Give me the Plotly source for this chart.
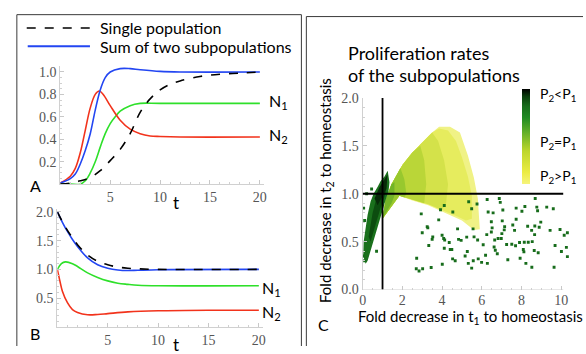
import plotly.graph_objects as go

W, H = 586, 354

# ---------------- Data: panel A (growth curves) ----------------
tA_sum = [0, 1, 1.5, 2, 2.5, 3, 3.5, 4, 4.5, 5, 6, 7, 8, 10, 12, 20]
A_sum = [0.01, 0.05, 0.09, 0.18, 0.30, 0.45, 0.66, 0.84, 0.95, 1.0, 1.03, 1.03, 1.02, 1.005, 1.0, 1.0]

tA_n2 = [0, 1, 1.5, 2, 2.5, 3, 3.5, 3.9, 4.3, 5, 6, 7, 8, 9, 10, 12, 20]
A_n2 = [0.01, 0.07, 0.14, 0.28, 0.48, 0.68, 0.80, 0.83, 0.80, 0.70, 0.57, 0.49, 0.45, 0.43, 0.425, 0.42, 0.42]

tA_n1 = [0, 1, 2, 2.5, 3, 3.5, 4, 4.5, 5, 5.5, 6, 7, 8, 10, 20]
A_n1 = [0.0, 0.0, 0.0, 0.03, 0.10, 0.20, 0.33, 0.45, 0.54, 0.60, 0.65, 0.70, 0.72, 0.72, 0.72]

tA_single = [0, 1, 2, 3, 4, 5, 6, 7, 8, 9, 10, 11, 12, 14, 16, 18, 20]
A_single = [0.0, 0.01, 0.03, 0.06, 0.12, 0.21, 0.31, 0.45, 0.64, 0.76, 0.84, 0.89, 0.92, 0.96, 0.98, 0.99, 1.0]

# ---------------- Data: panel B (ratios) ----------------
tB_sum = [0, 0.5, 1, 1.5, 2, 3, 4, 5, 6, 7, 8, 10, 20]
B_sum = [2.0, 1.82, 1.66, 1.52, 1.40, 1.20, 1.08, 1.02, 0.99, 0.98, 0.985, 0.995, 1.0]

tB_single = [0, 0.5, 1, 1.5, 2, 3, 4, 5, 6, 7, 8, 10, 20]
B_single = [2.0, 1.83, 1.68, 1.55, 1.43, 1.25, 1.14, 1.08, 1.04, 1.02, 1.01, 1.0, 1.0]

tB_n1 = [0, 0.4, 0.8, 1.5, 2, 3, 4, 5, 6, 7, 8, 10, 20]
B_n1 = [1.0, 1.10, 1.13, 1.10, 1.05, 0.94, 0.86, 0.80, 0.76, 0.74, 0.725, 0.715, 0.715]

tB_n2 = [0, 0.25, 0.5, 1, 1.5, 2, 3, 4, 5, 7, 10, 15, 20]
B_n2 = [1.0, 0.80, 0.62, 0.42, 0.30, 0.25, 0.21, 0.215, 0.23, 0.26, 0.28, 0.29, 0.29]

tick_A_x = [5, 10, 15, 20]
tick_A_y = [0.2, 0.4, 0.6, 0.8, 1.0]
tick_B_y = [0.5, 1.0, 1.5, 2.0]
tick_C_x = [0, 2, 4, 6, 8, 10]
tick_C_y = [0.0, 0.5, 1.0, 1.5, 2.0]

# ---------------- Data: panel C ----------------
# sparse scattered points (fold decrease t1, fold decrease t2)
C_x = [2.95, 3.25, 3.28, 3.0, 3.83, 4.0, 4.08, 4.13, 3.5, 3.53, 3.33, 2.72, 2.7, 2.84, 3.02, 3.45,
       4.01, 4.11, 4.36, 4.41, 4.49, 4.53, 4.66, 4.83, 4.96, 4.78, 5.24, 5.27, 5.16, 5.32, 5.49, 5.57,
       5.56, 5.61, 5.82, 5.79, 5.99, 6.07, 6.19, 6.28, 6.25, 6.32, 6.27, 6.57, 6.48, 6.48, 6.52, 6.62,
       6.65, 6.68, 6.78, 6.82, 6.88, 6.93, 7.06, 7.03, 7.01, 6.98, 7.15, 7.13, 7.25, 7.31, 7.51, 7.65,
       7.70, 7.56, 7.73, 7.73, 7.93, 7.90, 8.02, 8.09, 8.12, 8.14, 8.22, 8.17, 8.34, 8.31, 8.51, 8.54,
       8.52, 8.64, 8.67, 8.66, 8.77, 8.81, 8.69, 8.84, 8.89, 8.97, 9.27, 9.44, 9.60, 9.69, 9.64, 9.94,
       10.01, 10.15, 10.26, 10.31, 10.31,
       4.11, 4.54, 5.49, 5.76, 3.92, 5.34,
       0.10, 0.02, 0.10, 0.45, 0.20, 0.05, 0.70]
C_y = [0.79, 0.657, 0.643, 0.593, 0.727, 0.567, 0.533, 0.517, 0.523, 0.55, 0.46, 0.327, 0.217, 0.193, 0.217, 0.23,
       0.263, 0.43, 0.49, 0.417, 0.417, 0.32, 0.30, 0.523, 0.513, 0.633, 0.547, 0.397, 0.35, 0.273, 0.223, 0.30,
       0.633, 0.55, 0.32, 0.517, 0.283, 0.467, 0.357, 0.273, 0.573, 0.81, 0.94, 0.80, 0.707, 0.60, 0.643, 0.443,
       0.517, 0.41, 0.373, 0.533, 0.95, 0.91, 0.83, 0.717, 0.583, 0.533, 0.657, 0.623, 0.47, 0.31, 0.473, 0.617,
       0.457, 0.673, 0.733, 0.85, 0.327, 0.49, 0.817, 0.417, 0.393, 0.493, 0.273, 0.867, 0.493, 0.66, 0.617, 0.50,
       0.233, 0.407, 0.663, 0.573, 0.86, 0.823, 0.95, 0.383, 0.65, 0.703, 0.86, 0.617, 0.843, 0.46, 0.233, 0.627,
       0.397, 0.567, 0.44, 0.593, 0.343,
       0.877, 0.81, 0.843, 0.893, 0.833, 0.917,
       0.72, 0.35, 0.30, 1.05, 1.0, 0.85, 0.40]

# dense cloud outlines (P2 > P1 fan, layered by colour)
fan1_x = [1.0, 1.15, 1.45, 2.0, 2.5, 3.0, 3.5, 3.85, 4.4, 4.9, 5.3, 5.6, 5.8, 5.9, 5.6, 5.0, 4.0, 3.3, 2.5, 1.85]
fan1_y = [0.74, 0.93, 1.1, 1.3, 1.43, 1.54, 1.64, 1.70, 1.70, 1.64, 1.40, 1.17, 0.95, 0.63, 0.62, 0.72, 0.81, 0.88, 0.93, 0.98]
fan2_x = [1.0, 1.15, 1.45, 2.0, 2.5, 3.0, 3.5, 3.85, 4.3, 4.7, 5.0, 5.3, 5.5, 5.5, 5.2, 4.8, 4.0, 3.3, 2.5, 1.85]
fan2_y = [0.74, 0.93, 1.1, 1.3, 1.43, 1.54, 1.64, 1.68, 1.66, 1.55, 1.38, 1.18, 0.98, 0.74, 0.72, 0.76, 0.83, 0.89, 0.94, 0.98]
fan3_x = [1.0, 1.15, 1.45, 2.0, 2.5, 3.0, 3.5, 3.8, 4.1, 4.3, 4.2, 4.0, 3.3, 2.5, 1.85]
fan3_y = [0.74, 0.93, 1.1, 1.3, 1.43, 1.54, 1.64, 1.55, 1.35, 1.1, 0.9, 0.83, 0.89, 0.94, 0.98]
fan4_x = [1.0, 1.15, 1.45, 2.0, 2.5, 2.9, 3.1, 3.2, 3.1, 2.5, 1.85]
fan4_y = [0.74, 0.93, 1.1, 1.3, 1.43, 1.5, 1.35, 1.1, 0.9, 0.94, 0.98]
fan5_x = [1.0, 1.15, 1.45, 1.9, 2.1, 2.2, 2.1, 1.85]
fan5_y = [0.74, 0.93, 1.1, 1.27, 1.15, 1.0, 0.96, 0.98]
fan6_x = [1.0, 1.15, 1.45, 1.6, 1.6, 1.45]
fan6_y = [0.74, 0.93, 1.1, 1.12, 0.98, 0.9]

# P2 < P1 wedge
wedge1_x = [0.15, 0.03, 0.05, 0.12, 0.25, 0.4, 0.55, 0.75, 0.9, 1.1, 1.26, 1.35, 1.3, 1.15, 1.0, 0.85, 0.66, 0.5, 0.35, 0.25]
wedge1_y = [0.27, 0.35, 0.5, 0.62, 0.78, 0.92, 1.0, 1.07, 1.13, 1.18, 1.24, 1.12, 1.02, 0.93, 0.82, 0.72, 0.58, 0.47, 0.37, 0.3]
wedge2_x = [0.3, 0.5, 0.75, 1.0, 1.2, 1.15, 0.9, 0.6, 0.4]
wedge2_y = [0.55, 0.8, 1.0, 1.1, 1.15, 1.0, 0.85, 0.65, 0.5]
wedge3_x = [0.6, 0.85, 1.1, 1.25, 1.2, 0.95, 0.75]
wedge3_y = [0.95, 1.07, 1.15, 1.2, 1.05, 0.95, 0.88]

cb_labels = ["P<sub>2</sub>&lt;P<sub>1</sub>", "P<sub>2</sub>=P<sub>1</sub>", "P<sub>2</sub>&gt;P<sub>1</sub>"]

# ---------------- helpers ----------------
def fx(p):
    return p / W

def fy(p):
    return 1 - p / H

BLUE = '#2346f2'
RED = '#f2331c'
GREEN = '#2ee02a'
SANS = 'Lato'
SERIF = 'Liberation Serif'

fig = go.Figure()

# Panel A
fig.add_trace(go.Scatter(x=tA_n1, y=A_n1, mode='lines', line=dict(color=GREEN, width=1.6, shape='spline'), xaxis='x', yaxis='y'))
fig.add_trace(go.Scatter(x=tA_n2, y=A_n2, mode='lines', line=dict(color=RED, width=1.6, shape='spline'), xaxis='x', yaxis='y'))
fig.add_trace(go.Scatter(x=tA_sum, y=A_sum, mode='lines', line=dict(color=BLUE, width=1.6, shape='spline'), xaxis='x', yaxis='y'))
fig.add_trace(go.Scatter(x=tA_single, y=A_single, mode='lines', line=dict(color='black', width=1.6, dash='dash', shape='spline'), xaxis='x', yaxis='y'))

# Panel B
fig.add_trace(go.Scatter(x=tB_n1, y=B_n1, mode='lines', line=dict(color=GREEN, width=1.6, shape='spline'), xaxis='x2', yaxis='y2'))
fig.add_trace(go.Scatter(x=tB_n2, y=B_n2, mode='lines', line=dict(color=RED, width=1.6, shape='spline'), xaxis='x2', yaxis='y2'))
fig.add_trace(go.Scatter(x=tB_sum, y=B_sum, mode='lines', line=dict(color=BLUE, width=1.6, shape='spline'), xaxis='x2', yaxis='y2'))
fig.add_trace(go.Scatter(x=tB_single, y=B_single, mode='lines', line=dict(color='black', width=1.6, dash='dash', shape='spline'), xaxis='x2', yaxis='y2'))

# Panel C dense clouds
for xs, ys, col in [(fan1_x, fan1_y, '#f0f286'), (fan2_x, fan2_y, '#e6ec5e'), (fan3_x, fan3_y, '#d4e24a'),
                    (fan4_x, fan4_y, '#bad638'), (fan5_x, fan5_y, '#98c82e'), (fan6_x, fan6_y, '#72b428'),
                    (wedge1_x, wedge1_y, '#1a701c'), (wedge2_x, wedge2_y, '#0c4c0f'), (wedge3_x, wedge3_y, '#072a08')]:
    fig.add_trace(go.Scatter(x=xs + [xs[0]], y=ys + [ys[0]], mode='lines', fill='toself', fillcolor=col,
                             line=dict(width=0, color=col), xaxis='x3', yaxis='y3'))

colorscale = [[0, '#f6f47c'], [0.12, '#ecec45'], [0.35, '#bcd62c'], [0.55, '#5fae28'], [0.7, '#1f8a22'],
              [0.82, '#176c1b'], [0.92, '#0a3f0d'], [1, '#000000']]
fig.add_trace(go.Scatter(
    x=C_x, y=C_y, mode='markers', xaxis='x3', yaxis='y3',
    marker=dict(size=2.9, symbol='square', color=[0.82] * len(C_x), colorscale=colorscale, cmin=0, cmax=1,
                line=dict(width=0), showscale=True,
                colorbar=dict(thickness=8, thicknessmode='pixels', len=95, lenmode='pixels',
                              x=fx(524), xanchor='left', y=fy(86), yanchor='top', xpad=0, ypad=0,
                              outlinewidth=0, showticklabels=False, ticks=''))))

tick_font = dict(family=SERIF, size=14, color='#555555')
axis_common = dict(showgrid=False, zeroline=False, showline=True, linecolor='#d0d0d0', linewidth=1,
                   ticks='inside', ticklen=4, tickcolor='#c8c8c8', tickfont=tick_font)

fig.update_layout(
    width=W, height=H, margin=dict(l=0, r=0, t=0, b=0),
    paper_bgcolor='white', plot_bgcolor='rgba(0,0,0,0)', showlegend=False,
    font=dict(family=SANS, color='black'),
    xaxis=dict(domain=[fx(57), fx(263)], range=[0, 20.4], anchor='y', tickvals=tick_A_x,
               minor=dict(dtick=1, ticks='inside', ticklen=2, tickcolor='#d0d0d0'), **axis_common),
    yaxis=dict(domain=[fy(185), fy(62)], range=[0, 1.05], anchor='x', tickvals=tick_A_y, tickformat='.1f',
               minor=dict(dtick=0.05, ticks='inside', ticklen=2, tickcolor='#d0d0d0'), **axis_common),
    xaxis2=dict(domain=[fx(54), fx(262)], range=[0, 20.4], anchor='y2', tickvals=tick_A_x,
                minor=dict(dtick=1, ticks='inside', ticklen=2, tickcolor='#d0d0d0'), **axis_common),
    yaxis2=dict(domain=[fy(334), fy(211)], range=[0, 2.05], anchor='x2', tickvals=tick_B_y, tickformat='.1f',
                minor=dict(dtick=0.1, ticks='inside', ticklen=2, tickcolor='#d0d0d0'), **axis_common),
    xaxis3=dict(domain=[fx(363), fx(572)], range=[0, 10.4], anchor='y3', tickvals=tick_C_x,
                minor=dict(dtick=0.5, ticks='inside', ticklen=2, tickcolor='#d0d0d0'),
                **{**axis_common, 'showline': False}),
    yaxis3=dict(domain=[fy(295), fy(95)], range=[0, 2.0], anchor='x3', tickvals=tick_C_y, tickformat='.1f',
                minor=dict(dtick=0.1, ticks='inside', ticklen=2, tickcolor='#d0d0d0'), **axis_common),
)

shapes = []
frame = dict(color='#3a3a3a', width=1)
# panel frames
shapes.append(dict(type='line', xref='paper', yref='paper', x0=fx(13), x1=fx(13), y0=fy(8), y1=fy(354), line=frame))
shapes.append(dict(type='line', xref='paper', yref='paper', x0=fx(13), x1=fx(301), y0=fy(8), y1=fy(8), line=frame))
shapes.append(dict(type='line', xref='paper', yref='paper', x0=fx(301), x1=fx(301), y0=fy(8), y1=fy(354), line=frame))
shapes.append(dict(type='line', xref='paper', yref='paper', x0=fx(306), x1=fx(306), y0=fy(10), y1=fy(354), line=frame))
shapes.append(dict(type='line', xref='paper', yref='paper', x0=fx(306), x1=fx(586), y0=fy(10), y1=fy(10), line=frame))
# legend samples
shapes.append(dict(type='line', xref='paper', yref='paper', x0=fx(23), x1=fx(87), y0=fy(22), y1=fy(22),
                   line=dict(color='black', width=1.6, dash='dash')))
shapes.append(dict(type='line', xref='paper', yref='paper', x0=fx(24), x1=fx(87), y0=fy(41), y1=fy(41),
                   line=dict(color=BLUE, width=1.8)))
# panel C x-axis line and reference lines
shapes.append(dict(type='line', xref='x3', yref='y3', x0=0, x1=10.1, y0=0, y1=0, line=dict(color='#d0d0d0', width=1), layer='below'))
shapes.append(dict(type='line', xref='x3', yref='y3', x0=1, x1=1, y0=0, y1=2.0, line=dict(color='black', width=1.8)))
shapes.append(dict(type='line', xref='x3', yref='y3', x0=0, x1=10.1, y0=1, y1=1, line=dict(color='black', width=1.8)))
fig.update_layout(shapes=shapes)

ann = []
def txt(x, y, s, size=16, xanchor='left', family=SANS, angle=0, color='black'):
    ann.append(dict(xref='paper', yref='paper', x=fx(x), y=fy(y), text=s, showarrow=False, xanchor=xanchor,
                    yanchor='middle', textangle=angle, font=dict(family=family, size=size, color=color)))

txt(95, 21, 'Single population', 16)
txt(95, 41, 'Sum of two subpopulations', 16)
txt(266, 99, 'N<sub>1</sub>', 16)
txt(266, 134, 'N<sub>2</sub>', 16)
txt(259, 294, 'N<sub>1</sub>', 16)
txt(259, 319, 'N<sub>2</sub>', 16)
txt(174, 204, 't', 17, 'center')
txt(174, 352, 't', 17, 'center')
txt(24, 186, 'A', 16)
txt(24, 341, 'B', 16)
txt(316, 332, 'C', 16)
txt(346, 48, 'Proliferation rates', 18)
txt(346, 71, 'of the subpopulations', 18)
txt(540, 91, cb_labels[0], 14)
txt(540, 142, cb_labels[1], 14)
txt(540, 177, cb_labels[2], 14)
txt(472, 324, 'Fold decrease in t<sub>1</sub> to homeostasis', 15, 'center')
txt(326, 192, 'Fold decrease in t<sub>2</sub> to homeostasis', 15, 'center', angle=-90)
fig.update_layout(annotations=ann)

fig.write_html('out.html')
